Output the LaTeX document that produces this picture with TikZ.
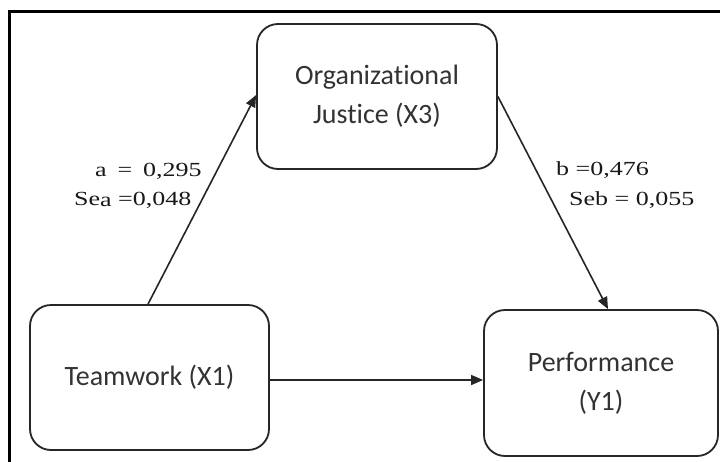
\documentclass[tikz,border=0pt]{standalone}
\usepackage{fontspec}
\setmainfont{Liberation Serif}
\newfontfamily\boxfont[Ligatures=NoCommon]{Carlito}
\usetikzlibrary{arrows.meta,calc}

\tikzset{
  varbox/.style={draw=black!85, line width=1.8pt, rounded corners=21pt,
    align=center, inner sep=0pt, text=black!80,
    font=\boxfont\fontsize{28}{39}\selectfont},
  arr/.style={line width=1.6pt, draw=black!85,
    -{Triangle[length=12pt,width=10pt]}},
  coef/.style={anchor=base west, inner sep=0pt, text=black!90,
    font=\fontsize{20}{22}\selectfont},
  frameline/.style={line width=2.6pt, draw=black}
}
\newcommand{\wide}[1]{\scalebox{1.3}[1]{#1}}

\begin{document}
\begin{tikzpicture}[x=1pt,y=-1pt]
  \useasboundingbox (0,0) rectangle (720,461);
  \fill[white] (0,0) rectangle (720,461);
  \clip (0,0) rectangle (720,461);

  % outer frame (only its top and left sides fall inside the page)
  \draw[frameline] (9.5,470) -- (9.5,11.5) -- (730,11.5);

  % variables
  \node[varbox, minimum width=240pt, minimum height=145pt] (oj) at (377,96.5)
    {Organizational\\Justice (X3)};
  \node[varbox, minimum width=239pt, minimum height=145pt] (tw) at (149.5,377.5)
    {Teamwork (X1)};
  \node[varbox, minimum width=234pt, minimum height=146pt] (pf) at (601,383)
    {Performance\\(Y1)};

  % paths
  \draw[arr] ([xshift=-1.5pt]tw.north) -- ([yshift=1.5pt]oj.west);
  \draw[arr] (oj.east) -- ([xshift=7pt]pf.north);
  \coordinate (c) at ([yshift=-2.5pt]tw.east);
  \draw[arr] (c) -- (c -| pf.west);

  % path coefficients
  \node[coef] (ca) at (95,176) {\wide{a\, = \,0,295}};
  \node[coef] (sa) at (74,205) {\wide{Se\raisebox{-1.5pt}{a} =0,048}};
  \node[coef] (cb) at (556,175) {\wide{b =0,476}};
  \node[coef] (sb) at (569,205) {\wide{Seb = 0,055}};
\end{tikzpicture}
\end{document}
